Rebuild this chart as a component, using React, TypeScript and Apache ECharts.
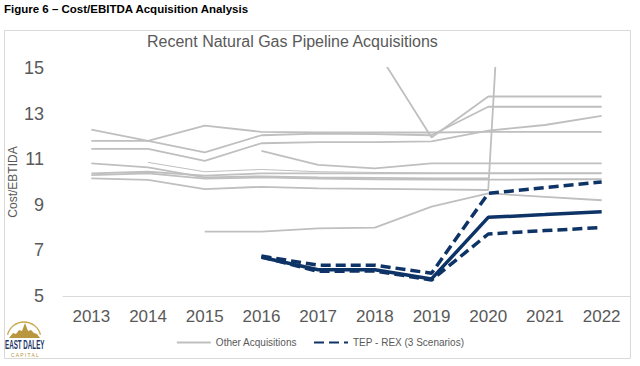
import React, { useEffect, useRef } from "react";
import * as echarts from "echarts";

const years = ["2013", "2014", "2015", "2016", "2017", "2018", "2019", "2020", "2021", "2022"];

const other1 = [12.3, 11.8, 12.47, 12.2, 12.17, 12.17, 12.17, 12.2, 12.2, 12.2];
const other2 = [11.8, 11.8, 11.3, 12.05, 12.12, 12.1, 12.05, 13.3, 13.3, 13.3];
const other3 = [11.45, 11.45, 10.93, 11.7, 11.75, 11.75, 11.78, 12.25, 12.5, 12.9];
const other4 = [null, null, null, null, null, 15.9, 11.95, 13.75, 13.75, 13.75];
const other5 = [null, null, null, 11.37, 10.75, 10.6, 10.82, 10.82, 10.82, 10.82];
const other6 = [10.82, 10.64, 10.2, 10.25, 10.2, 10.18, 10.16, 10.16, null, null];
const other7 = [null, 10.86, 10.45, 10.55, 10.45, 10.42, 10.4, 10.4, 10.4, 10.4];
const other8 = [10.38, 10.45, 10.28, 10.38, 10.38, 10.38, 10.38, 10.38, 10.38, 10.38];
const other9 = [10.3, 10.38, 10.15, 10.2, 10.15, 10.12, 10.1, 10.1, 10.12, 10.12];
const other10 = [10.16, 10.09, 9.69, 9.79, 9.72, 9.7, 9.68, 9.65, 53, null];
const other11 = [null, null, 7.82, 7.82, 7.97, 8.0, 8.92, 9.5, 9.35, 9.2];

const tepHigh = [null, null, null, 6.75, 6.35, 6.35, 6.0, 9.5, 9.75, 10.0];
const tepMid = [null, null, null, 6.7, 6.15, 6.15, 5.75, 8.45, 8.57, 8.7];
const tepLow = [null, null, null, 6.72, 6.08, 6.1, 5.7, 7.72, 7.87, 8.0];

const otherSeries = [other1, other2, other3, other4, other5, other6, other7, other8, other9, other10, other11];

const OTHER = "Other Acquisitions";
const TEP = "TEP - REX (3 Scenarios)";
const NAVY = "#0e3366";
const GRAY = "#bfbfbf";
const TXT = "#595959";
const FONT = "'Liberation Sans', Arial, sans-serif";

export default function App() {
  const ref = useRef<HTMLDivElement>(null);
  useEffect(() => {
    if (!ref.current) return;
    const chart = echarts.init(ref.current, undefined, { renderer: "svg" });
    const series: any[] = otherSeries.map((d, i) => ({
      name: OTHER,
      type: "line",
      data: d,
      symbol: "none",
      clip: true,
      lineStyle: { color: GRAY, width: i === 6 ? 1 : 1.8 },
      itemStyle: { color: GRAY },
      z: 2,
    }));
    [tepHigh, tepLow, tepMid].forEach((d, i) => {
      series.push({
        name: TEP,
        type: "line",
        data: d,
        symbol: "none",
        clip: true,
        lineStyle: { color: NAVY, width: 3.5, type: i === 2 ? "solid" : [10, 5] },
        itemStyle: { color: NAVY },
        z: 3,
      });
    });
    chart.setOption({
      animation: false,
      backgroundColor: "#ffffff",
      title: {
        text: "Recent Natural Gas Pipeline Acquisitions",
        left: 142,
        top: 28,
        textStyle: { fontFamily: FONT, fontSize: 16, fontWeight: "normal", color: TXT },
      },
      legend: {
        top: 332,
        left: "center",
        itemWidth: 34,
        itemHeight: 14,
        itemGap: 16,
        data: [OTHER, TEP],
        itemStyle: { opacity: 0 },
        textStyle: { fontFamily: FONT, fontSize: 10, color: TXT },
      },
      grid: { left: 63, right: 10, top: 68, bottom: 70, containLabel: false, outerBoundsMode: "none" },
      xAxis: {
        type: "category",
        data: years,
        boundaryGap: true,
        axisLine: { lineStyle: { color: "#d9d9d9", width: 1 } },
        axisTick: { show: false },
        axisLabel: { fontFamily: FONT, fontSize: 17, color: TXT, margin: 12 },
      },
      yAxis: {
        type: "value",
        min: 5,
        max: 15,
        interval: 2,
        name: "Cost/EBTIDA",
        nameLocation: "middle",
        nameRotate: 90,
        nameGap: 44,
        nameMoveOverlap: false,
        nameTextStyle: { fontFamily: FONT, fontSize: 12, color: TXT },
        axisLine: { show: false },
        axisTick: { show: false },
        splitLine: { show: false },
        axisLabel: { fontFamily: FONT, fontSize: 18, color: TXT, margin: 19 },
      },
      graphic: [
        {
          type: "rect",
          shape: { x: 4.5, y: 30.5, width: 626, height: 328 },
          style: { fill: "none", stroke: "#d9d9d9", lineWidth: 1 },
          silent: true,
          z: -1,
        },
        {
          type: "text",
          left: 4,
          top: 3,
          style: {
            text: "Figure 6 – Cost/EBITDA Acquisition Analysis",
            fontFamily: FONT,
            fontWeight: "bold",
            fontSize: 11.5,
            fill: "#000000",
          },
        },
        {
          type: "arc",
          shape: { cx: 24, cy: 339, r: 17, startAngle: Math.PI * 1.08, endAngle: Math.PI * 1.92 },
          style: { stroke: "#c8a84b", lineWidth: 1.3, fill: "none" },
        },
        {
          type: "polygon",
          shape: {
            points: [
              [9, 338], [13, 333], [16, 334], [19, 330], [22, 331], [25, 323],
              [28, 331], [31, 330], [34, 333], [37, 334], [40, 338],
            ],
          },
          style: { fill: "#b8973e" },
        },
        {
          type: "text",
          x: 5,
          y: 339,
          scaleX: 0.52,
          style: {
            text: "EAST DALEY",
            fontFamily: FONT,
            fontWeight: "bold",
            fontSize: 12,
            fill: "#1f3864",
          },
        },
        {
          type: "text",
          x: 11,
          y: 352,
          style: {
            text: "C A P I T A L",
            fontFamily: FONT,
            fontSize: 5,
            fill: "#b8973e",
          },
        },
      ],
      series,
    });
    return () => chart.dispose();
  }, []);
  return (
    <div
      ref={ref}
      style={{ position: "absolute", left: 0, top: 0, width: 640, height: 366 }}
    />
  );
}
